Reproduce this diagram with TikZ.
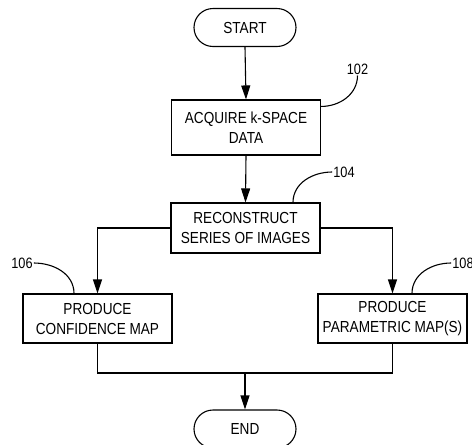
\documentclass[tikz,border=0pt]{standalone}
\usepackage{fontspec}
\setmainfont[FakeStretch=0.85]{Liberation Sans}
\usetikzlibrary{arrows.meta}

\begin{document}
\begin{tikzpicture}[x=1pt,y=1pt,
        stepbox/.style={draw,line width=1.1pt,minimum width=149pt,minimum height=50pt,align=center,inner sep=2pt,font=\fontsize{16}{20}\selectfont},
        termbox/.style={draw,line width=1.1pt,rounded corners=19pt,minimum width=102pt,minimum height=38pt,font=\fontsize{16}{20}\selectfont},
        flow/.style={line width=1.1pt,-{Triangle[length=14pt,width=9pt]}},
        link/.style={line width=1.1pt},
        refnum/.style={inner sep=1pt,font=\fontsize{15}{16}\selectfont}]
        \useasboundingbox (0,0) rectangle (472,-445);

        %%% BOXES %%%
        \node[termbox] (start) at (245,-27.5) {START};
        \node[stepbox,minimum height=55pt] (acq) at (246,-127.5) {ACQUIRE k-SPACE\\DATA};
        \node[stepbox] (rec) at (245.5,-228) {RECONSTRUCT\\SERIES OF IMAGES};
        \node[stepbox,minimum height=49pt] (conf) at (97.5,-318.5) {PRODUCE\\CONFIDENCE MAP};
        \node[stepbox,minimum height=49pt] (par) at (392.5,-318.5) {PRODUCE\\PARAMETRIC MAP(S)};
        \node[termbox] (end) at (245,-429) {END};
        \coordinate (mrg) at (245,-373);

        %%% FLOW %%%
        \draw[flow] (start.south)--(acq.north);
        \draw[flow] (acq.south)--(rec.north);
        \draw[flow] (rec.west) -| (conf.north);
        \draw[flow] (rec.east) -| (par.north);
        \draw[link] (conf.south) |- (mrg) -| (par.south);
        \draw[flow] (mrg)--(end.north);

        %%% REFERENCE NUMERALS %%%
        \node[refnum] (l102) at (357.5,-69) {102};
        \node[refnum] (l104) at (344,-172) {104};
        \node[refnum] (l106) at (22,-263) {106};
        \node[refnum] (l108) at (463,-263) {108};
        \draw[link] ([yshift=-7pt]acq.north east) to[out=0,in=-90] (l102.south);
        \draw[link] ([xshift=47.5pt]rec.north) to[out=90,in=180] (l104.west);
        \draw[link] (l106.east) to[out=0,in=90] ([xshift=-23.5pt]conf.north);
        \draw[link] ([xshift=19.5pt]par.north) to[out=90,in=180] (l108.west);
    \end{tikzpicture}
\end{document}
